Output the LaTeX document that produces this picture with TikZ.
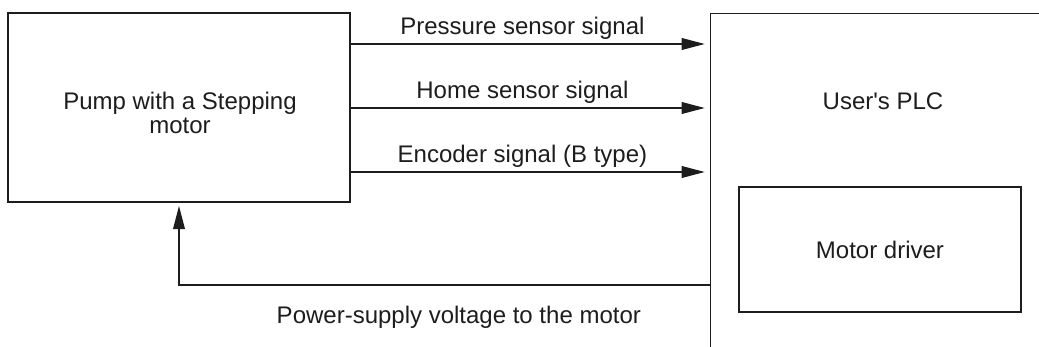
\documentclass[tikz,border=0pt]{standalone}
\usepackage{fontspec}
\setmainfont{Liberation Sans}
\usetikzlibrary{arrows.meta, positioning, calc}
\definecolor{linegray}{RGB}{30,28,29}
\newcommand{\diafont}{\fontsize{13.66}{13.66}\selectfont}

\begin{document}
\begin{tikzpicture}[x=0.02cm, y=-0.02cm,
    box/.style={draw=linegray, line width=0.8pt, rectangle, inner sep=0pt, font=\diafont, text=linegray},
    sig/.style={draw=linegray, line width=1.35pt, -{Triangle[length=4.7mm, width=2.3mm]}},
    lbl/.style={font=\diafont, text=linegray, inner sep=0pt, anchor=base}]
    \clip (0,0) rectangle (1039,347);

    % Blöcke
    \node[box, minimum width=6.84cm, minimum height=3.78cm] (pump) at (179,107.5) {};
    \node[lbl, anchor=center, align=center] (pumpname) at (180,113) {Pump with a Stepping\\motor};
    \node[box, anchor=north west, minimum width=7cm, minimum height=8cm] (plc) at (710,13) {};
    \node[lbl, anchor=center] (plcname) at (883,101.5) {User\textquotesingle s PLC};
    \node[box, minimum width=5.64cm, minimum height=2.5cm] (driver) at (880,249.5) {Motor driver};

    % Signale zur SPS
    \foreach \y/\txt in {44/Pressure sensor signal, 108/Home sensor signal, 172/Encoder signal (B type)} {
        \draw[sig, shorten >=0.1cm] (pump.east |- 0,\y) -- node[lbl, pos=0.478, yshift=0.18cm] {\txt} (plc.west |- 0,\y);
    }

    % Versorgung
    \coordinate (feed) at (179,285);
    \draw[sig, shorten >=0.06cm] (plc.west |- feed) -- node[lbl, pos=0.473, yshift=-0.78cm] {Power-supply voltage to the motor} (feed) -- (pump.south);
\end{tikzpicture}
\end{document}
